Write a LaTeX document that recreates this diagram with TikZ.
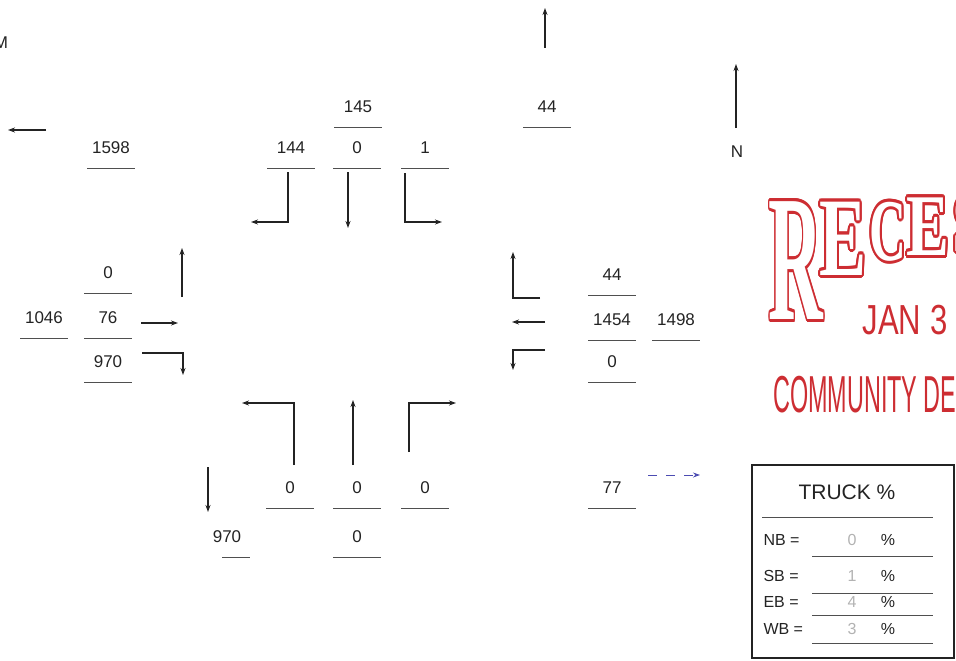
\documentclass[tikz,border=0pt]{standalone}
\usepackage{fontspec}
\usepackage{contour}
\setmainfont{Liberation Sans}
\newfontfamily\stampserif{Liberation Serif}
\usetikzlibrary{arrows.meta,calc,positioning}
\definecolor{ink}{RGB}{35,35,35}
\definecolor{stampred}{RGB}{205,45,50}
\contourlength{3pt}

\begin{document}
\begin{tikzpicture}[x=1pt,y=-1pt,>={Stealth[length=7pt,width=5pt]},
  num/.style={font=\fontsize{17}{17}\selectfont,text=ink},
  ul/.style={draw=ink!80,line width=0.9pt},
  flow/.style={draw=ink,line width=1.1pt,->}]
  \useasboundingbox (0,0) rectangle (956,661);
  % turning counts with underlines
  \foreach \n/\x/\y/\t in {wout/111/148/1598, nin/358/107/145, sbl/291/148/144,
      sbt/357/148/0, sbr/425/148/1, nout/547/107/44, ebl/108/273/0, ebt/108/318/76,
      ebr/108/362/970, win/44/318/1046, nbl/290/488/0, nbt/357/488/0, nbr/425/488/0,
      sin/357/537/0, wbr/612/275/44, wbt/612/320/1454, wbl/612/362/0,
      ein/676/320/1498, eout/612/488/77}{
    \node[num] (\n) at (\x,\y) {\t};
    \draw[ul] (\x-24,\y+20) -- (\x+24,\y+20);
  }
  \node[num] (sout) at (227,537) {970};
  \draw[ul] (222,557) -- (250,557);
  % movement arrows
  \draw[flow] (46,130) -- (8,130);
  \draw[flow] (288,172) -- (288,222) -- (251,222);
  \draw[flow] (348,172) -- (348,228);
  \draw[flow] (405,173) -- (405,222) -- (442,222);
  \draw[flow] (545,48) -- (545,8);
  \draw[flow] (182,297) -- (182,248);
  \draw[flow] (141,323) -- (178,323);
  \draw[flow] (142,353) -- (183,353) -- (183,375);
  \draw[flow] (294,465) -- (294,403) -- (242,403);
  \draw[flow] (353,465) -- (353,400);
  \draw[flow] (409,452) -- (409,403) -- (456,403);
  \draw[flow] (208,467) -- (208,512);
  \draw[flow] (540,298) -- (513,298) -- (513,252);
  \draw[flow] (545,322) -- (512,322);
  \draw[flow] (545,350) -- (513,350) -- (513,370);
  \draw[->,dashed,dash pattern=on 9pt off 9pt,draw=gray!60!blue,line width=0.8pt] (648,475) -- (700,475);
  % north arrow
  \draw[flow] (736,128) -- (736,64);
  \node[num] (north) at (737,152) {N};
  \node[num] (edge) at (1,43) {M};
  % stamp
  \node[inner sep=0] (stampR) at (796,262)
    {\scalebox{0.42}[1]{\fontsize{180}{180}\stampserif\bfseries\color{white}\contour{stampred}{R}}};
  \foreach \n/\x/\y/\s/\w/\c in {e1/843/240/112/0.63/E, c1/888/233/88/0.58/C,
      e2/928/228/88/0.73/E, s1/970/226/88/0.7/S}{
    \node[inner sep=0] (\n) at (\x,\y)
      {\scalebox{\w}[1]{\fontsize{\s}{\s}\stampserif\bfseries\color{white}\contour{stampred}{\c}}};
  }
  \node[text=stampred] (date) at (905,320) {\scalebox{0.74}[1]{\fontsize{42}{42}\selectfont JAN 3}};
  \node[text=stampred,anchor=west,inner sep=0] (dept) at (773,395)
    {\scalebox{0.45}[1]{\fontsize{52}{52}\selectfont COMMUNITY DE}};
  % truck box
  \draw[ink,line width=1.2pt] (752,465) rectangle (954,658);
  \node[font=\fontsize{21}{21}\selectfont,text=ink] (truck) at (847,492) {TRUCK \%};
  \draw[ul] (762,517) -- (933,517);
  \foreach \n/\y/\v in {NB/540/0, SB/576/1, EB/602/4, WB/629/3}{
    \node[anchor=west,font=\fontsize{16}{16}\selectfont,text=ink] (l\n) at (760,\y) {\n\ =};
    \node[font=\fontsize{16}{16}\selectfont,text=black!30] (v\n) at (852,\y) {\v};
    \node[font=\fontsize{16}{16}\selectfont,text=ink] (p\n) at (888,\y) {\%};
  }
  \foreach \y in {556,593,615,643}
    \draw[ul] (812,\y) -- (933,\y);
\end{tikzpicture}
\end{document}
